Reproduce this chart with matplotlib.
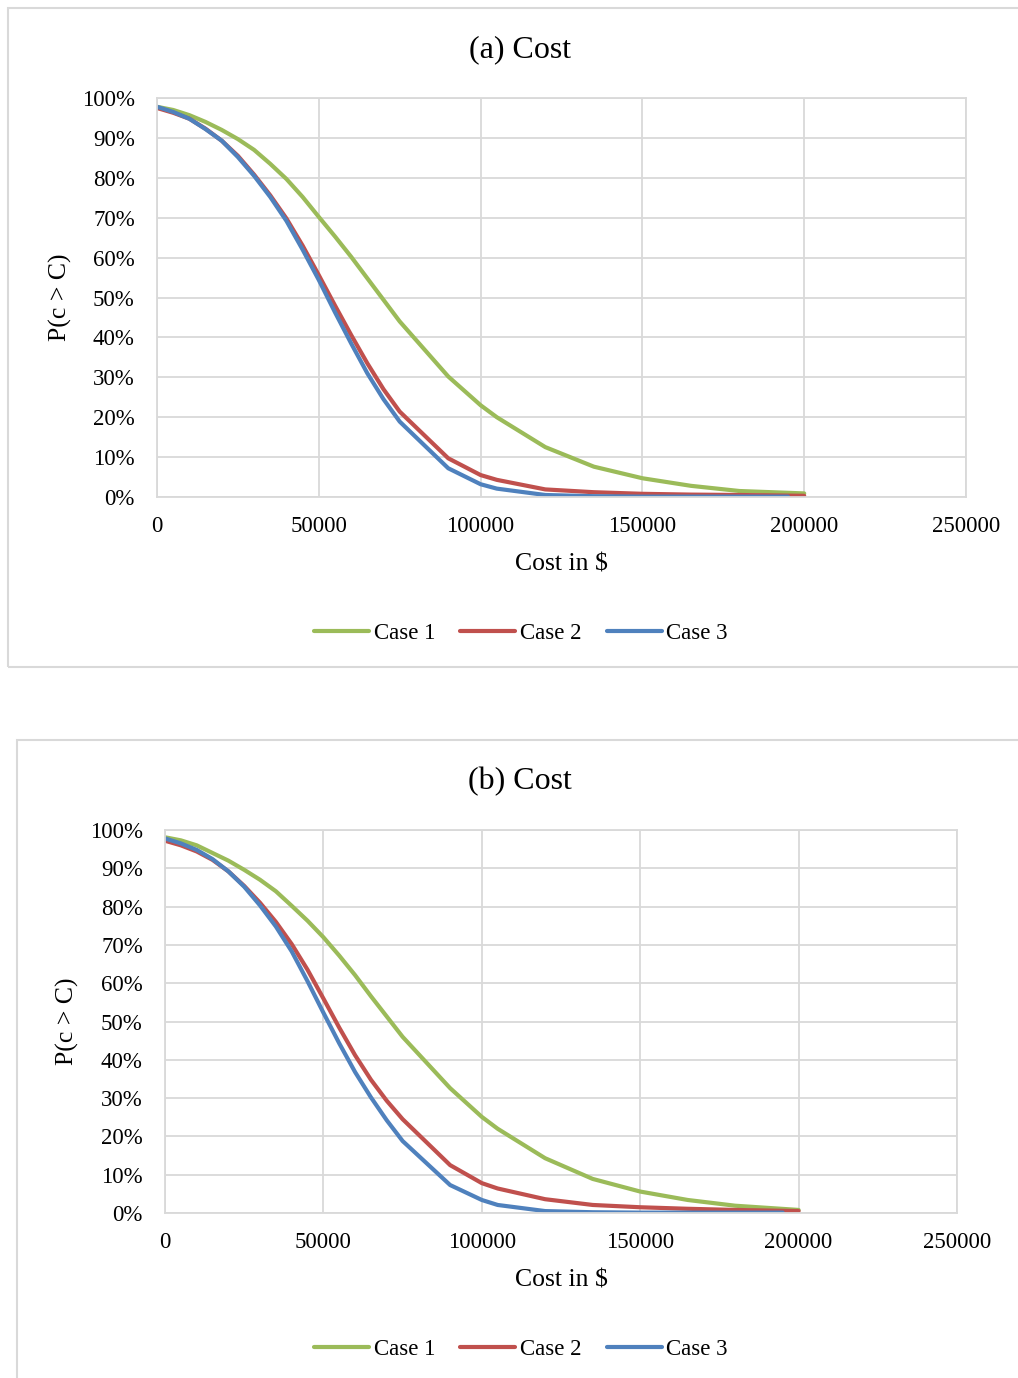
import matplotlib
matplotlib.use("Agg")
import matplotlib.pyplot as plt
from matplotlib.patches import Rectangle
from matplotlib.ticker import PercentFormatter

plt.rcParams["font.family"] = ["Liberation Serif", "DejaVu Serif"]

# ---- data (P(c > C) in %) ----
cost = [0, 5000, 10000, 15000, 20000, 25000, 30000, 35000, 40000, 45000, 50000,
        55000, 60000, 65000, 70000, 75000, 90000, 100000, 105000, 120000,
        135000, 150000, 165000, 180000, 200000]
cost_case3 = cost[:-1] + [195000]

a_case1 = [97.8, 97.0, 95.7, 94.0, 92.0, 89.7, 87.0, 83.5, 79.7, 75.2, 70.2,
           65.3, 60.2, 54.8, 49.4, 44.0, 30.2, 23.0, 20.0, 12.5, 7.6, 4.7, 2.8, 1.5, 0.9]
a_case2 = [97.5, 96.3, 94.8, 92.3, 89.3, 85.5, 80.8, 75.6, 69.8, 63.0, 55.6,
           48.0, 40.6, 33.5, 27.0, 21.4, 9.7, 5.5, 4.3, 1.9, 1.2, 0.8, 0.6, 0.5, 0.3]
a_case3 = [97.8, 96.5, 94.8, 92.2, 89.3, 85.2, 80.5, 75.2, 69.2, 62.0, 54.4,
           46.3, 38.5, 31.0, 24.5, 18.9, 7.2, 3.2, 2.1, 0.5, 0.2, 0.1, 0.1, 0.1, 0.1]

b_case1 = [98.1, 97.3, 96.0, 94.0, 92.0, 89.6, 87.0, 84.0, 80.2, 76.3, 72.0,
           67.2, 62.1, 56.6, 51.3, 46.0, 32.6, 25.1, 22.0, 14.3, 8.9, 5.6, 3.4, 1.9, 0.8]
b_case2 = [97.2, 96.0, 94.4, 92.2, 89.2, 85.4, 81.0, 76.0, 70.2, 63.5, 56.0,
           48.4, 41.2, 34.8, 29.3, 24.5, 12.5, 7.8, 6.4, 3.6, 2.1, 1.5, 1.1, 0.8, 0.5]
b_case3 = [97.8, 96.5, 94.8, 92.4, 89.2, 85.2, 80.3, 74.8, 68.3, 60.5, 52.3,
           44.3, 36.8, 30.2, 24.2, 18.8, 7.3, 3.4, 2.1, 0.5, 0.2, 0.1, 0.1, 0.1, 0.1]

labels = ["Case 1", "Case 2", "Case 3"]
colors = ["#9BBB59", "#C0504D", "#4F81BD"]

W, H = 1018, 1378
fig = plt.figure(figsize=(W / 100, H / 100), dpi=100)


def px(x, y):
    # pixel (from top-left) -> figure fraction
    return x / W, 1 - y / H


def draw_panel(box, title, c1, c2, c3, frame, title_y, ylab_x, xlab_y, leg_y):
    l, t, r, b = box
    # outer chart frame
    fx0, fy0, fx1, fy1 = frame
    fig.patches.append(Rectangle(px(fx0, fy1), (fx1 - fx0) / W, (fy1 - fy0) / H,
                                 transform=fig.transFigure, fill=False,
                                 edgecolor="#D9D9D9", lw=1.5))
    x0, y0 = px(l, b)
    ax = fig.add_axes([x0, y0, (r - l) / W, (b - t) / H])
    lines = []
    for xs, ys, lab, col in zip([cost, cost, cost_case3], [c1, c2, c3], labels, colors):
        ln, = ax.plot(xs, ys, color=col, lw=3.0, label=lab, solid_capstyle="round")
        lines.append(ln)
    ax.set_xlim(0, 250000)
    ax.set_ylim(0, 100)
    ax.set_xticks(range(0, 250001, 50000))
    ax.set_yticks(range(0, 101, 10))
    ax.yaxis.set_major_formatter(PercentFormatter(decimals=0))
    ax.grid(True, color="#D9D9D9", lw=1.3)
    ax.set_axisbelow(True)
    for s in ax.spines.values():
        s.set_color("#D9D9D9")
        s.set_linewidth(1.3)
    ax.tick_params(length=0, labelsize=16.5)
    ax.tick_params(axis="y", pad=16)
    ax.tick_params(axis="x", pad=14)

    cx = (l + r) / 2
    fig.text(*px(520, title_y), title, ha="center", va="center", fontsize=23)
    fig.text(*px(cx, xlab_y), "Cost in $", ha="center", va="center", fontsize=18.5)
    fig.text(*px(ylab_x, (t + b) / 2), "P(c > C)", ha="center", va="center",
             rotation=90, fontsize=18.5)
    fig.legend(handles=lines, loc="center", bbox_to_anchor=px(521, leg_y), ncol=3,
               frameon=False, fontsize=16.5, handlelength=2.4, handletextpad=0.2,
               columnspacing=1.1)
    return ax


draw_panel((157, 98, 966, 497), "(a) Cost", a_case1, a_case2, a_case3,
           (8, 8, 1030, 667), 50, 60, 564, 633)
draw_panel((165, 830, 957, 1213), "(b) Cost", b_case1, b_case2, b_case3,
           (17, 740, 1030, 1400), 782, 67, 1281, 1349)

fig.savefig("out.png", dpi=100)
